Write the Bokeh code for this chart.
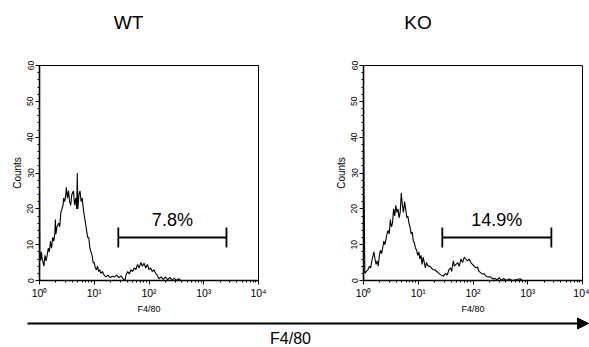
from bokeh.plotting import figure
from bokeh.layouts import column, row
from bokeh.models import Range1d, FixedTicker, SingleIntervalTicker, Arrow, NormalHead
from bokeh.core.properties import value
from bokeh.embed import file_html
from bokeh.resources import INLINE

FONT = "Liberation Sans"

# ---- data (x in decades of F4/80 fluorescence, y = counts) ----
wt_decades = [0.000, 0.000, 0.006, 0.02, 0.035, 0.05, 0.08, 0.10, 0.12, 0.14, 0.16, 0.18, 0.20, 0.22, 0.24,
              0.26, 0.28, 0.29, 0.30, 0.32, 0.35, 0.37, 0.39, 0.41, 0.43, 0.44, 0.46, 0.48, 0.49, 0.51,
              0.53, 0.55, 0.57, 0.59, 0.62, 0.64, 0.66, 0.68, 0.69, 0.70, 0.72, 0.74, 0.76, 0.78, 0.80,
              0.82, 0.84, 0.86, 0.88, 0.90, 0.92, 0.94, 0.96, 0.98, 1.00, 1.02, 1.04, 1.06, 1.08, 1.10,
              1.12, 1.15, 1.18, 1.21, 1.25, 1.29, 1.33, 1.37, 1.41, 1.45, 1.49, 1.52, 1.56, 1.58, 1.61,
              1.64, 1.67, 1.70, 1.73, 1.76, 1.79, 1.82, 1.85, 1.88, 1.91, 1.94, 1.97, 2.00, 2.03, 2.06,
              2.09, 2.12, 2.15, 2.18, 2.22, 2.26, 2.30, 2.34, 2.38, 2.42, 2.46, 2.50, 2.54, 2.58, 4.00]
wt_counts = [0, 32, 8, 5.5, 8, 6, 4, 7, 5.5, 7, 9, 8, 11, 9, 12,
             11, 13, 17, 13, 15, 16, 15, 19, 20, 21, 23, 22, 24, 26, 23,
             25, 22, 21, 24, 25, 21, 23, 20, 30, 20, 24, 25, 22, 23, 20,
             18, 16, 14, 12, 12, 9, 8, 7, 5, 5, 3.5, 3, 4, 2.5, 3,
             2, 2.5, 1.5, 1, 1.5, 0.8, 1.2, 1, 1.5, 0.8, 1.3, 0.6, 0, 1.5, 2.5,
             1.8, 3, 2.5, 3.5, 3, 4.5, 3.5, 5, 4, 4.8, 3.5, 4.5, 3, 3.5, 2.5,
             3, 2, 1.5, 0.5, 1, 0.3, 1, 0.2, 0.9, 0, 0.7, 0, 0.5, 0, 0]

ko_decades = [0.000, 0.000, 0.010, 0.025, 0.05, 0.08, 0.11, 0.13, 0.16, 0.19, 0.21, 0.23, 0.25, 0.27, 0.29,
              0.31, 0.33, 0.35, 0.37, 0.39, 0.41, 0.43, 0.45, 0.47, 0.49, 0.51, 0.53, 0.55, 0.57, 0.59,
              0.61, 0.63, 0.65, 0.67, 0.69, 0.71, 0.73, 0.75, 0.77, 0.79, 0.81, 0.83, 0.85, 0.87, 0.89,
              0.91, 0.93, 0.95, 0.97, 0.99, 1.01, 1.03, 1.05, 1.07, 1.09, 1.11, 1.13, 1.15, 1.18, 1.21,
              1.24, 1.27, 1.30, 1.34, 1.38, 1.42, 1.46, 1.50, 1.53, 1.56, 1.59, 1.61, 1.64, 1.66, 1.69,
              1.72, 1.75, 1.78, 1.81, 1.84, 1.87, 1.90, 1.93, 1.96, 1.99, 2.02, 2.05, 2.08, 2.11, 2.14,
              2.17, 2.20, 2.24, 2.28, 2.32, 2.36, 2.40, 2.44, 2.48, 2.52, 2.56, 2.60, 2.66, 2.72, 2.80,
              2.86, 2.90, 4.00]
ko_counts = [0, 50, 25, 2, 2.5, 3, 4, 3.5, 6, 8, 6, 4.5, 5.5, 4, 7,
             8.5, 7.5, 9, 11, 10, 11.5, 13, 14, 13, 17, 15, 16, 20, 18, 21,
             19, 20, 17.5, 19, 24.5, 21, 19, 22, 20, 17.5, 18, 16, 15, 13, 13.5,
             11, 10.5, 9, 8.5, 7, 8, 6, 7, 4.5, 6.5, 5, 3.5, 5, 4, 4,
             3.5, 3, 3, 2.5, 2, 1.5, 1.2, 2, 1.5, 3, 3.5, 2.5, 5.5, 4, 4.5,
             5, 4, 6, 5, 6.5, 6, 5.5, 6, 5, 4.5, 4, 3.5, 3.8, 2.5, 2.2,
             1.8, 1.9, 1.2, 1, 1, 0.5, 0.6, 0.2, 0.8, 0, 0.6, 0, 0.4, 0, 0.3,
             0.5, 0, 0]

panel_titles = ["WT", "KO"]
gate_ranges = [[27.5, 2600], [27.5, 2700]]
gate_levels = [12, 12]
gate_labels = ["7.8%", "14.9%"]
gate_label_levels = [17, 17]

x_major = [1, 10, 100, 1000, 10000]
x_tick_labels = ["10\u2070", "10\u00b9", "10\u00b2", "10\u00b3", "10\u2074"]
y_range = [0, 60]
x_label = "F4/80"
y_label = "Counts"
bottom_label = "F4/80"


def panel(decades, counts, gate, gate_y, glabel, glabel_y, width, mb_left, mb_right):
    p = figure(width=width, height=268, x_axis_type="log",
               x_range=Range1d(x_major[0], x_major[-1]), y_range=Range1d(*y_range),
               output_backend="svg", toolbar_location=None,
               min_border_left=mb_left, min_border_right=mb_right,
               min_border_top=17, min_border_bottom=32)
    p.xgrid.visible = False
    p.ygrid.visible = False
    p.outline_line_color = "black"
    p.outline_line_width = 1
    p.background_fill_color = "white"
    p.border_fill_color = "white"

    minors = [m * 10 ** k for k in range(4) for m in range(2, 10)]
    p.xaxis.ticker = FixedTicker(ticks=x_major, minor_ticks=minors)
    p.xaxis.major_label_overrides = {float(v): t for v, t in zip(x_major, x_tick_labels)}
    p.xaxis.axis_label = x_label
    p.yaxis.ticker = SingleIntervalTicker(interval=10, num_minor_ticks=5)
    p.yaxis.major_label_orientation = "vertical"
    p.yaxis.axis_label = y_label

    for ax in (p.xaxis[0], p.yaxis[0]):
        ax.axis_line_color = "black"
        ax.axis_line_width = 1.6
        ax.major_tick_line_color = "black"
        ax.minor_tick_line_color = "black"
        ax.major_tick_in = 0
        ax.major_tick_out = 4
        ax.minor_tick_in = 0
        ax.minor_tick_out = 2
        ax.major_label_text_font = FONT
        ax.major_label_text_color = "black"
        ax.major_label_standoff = 2
        ax.axis_label_text_font = FONT
        ax.axis_label_text_font_style = "normal"
        ax.axis_label_text_color = "black"
        ax.axis_label_standoff = 2
    p.xaxis.major_label_text_font_size = "10.5px"
    p.yaxis.major_label_text_font_size = "8.5px"
    p.xaxis.axis_label_text_font_size = "9px"
    p.yaxis.axis_label_text_font_size = "10px"

    xs = [10 ** d for d in decades]
    p.line(xs, counts, line_color="black", line_width=1.1)

    # gate bar
    p.segment(x0=[gate[0]], x1=[gate[1]], y0=[gate_y], y1=[gate_y], line_color="black", line_width=1.8)
    p.segment(x0=gate, x1=gate, y0=[gate_y - 2.8] * 2, y1=[gate_y + 2.8] * 2,
              line_color="black", line_width=1.8)
    cx = (gate[0] * gate[1]) ** 0.5
    p.text(x=[cx], y=[glabel_y], text=[glabel], text_align="center", text_baseline="middle",
           text_font=value(FONT), text_font_size="18px", text_color="black")
    return p


left = panel(wt_decades, wt_counts, gate_ranges[0], gate_levels[0], gate_labels[0],
             gate_label_levels[0], 300, 39, 42)
right = panel(ko_decades, ko_counts, gate_ranges[1], gate_levels[1], gate_labels[1],
              gate_label_levels[1], 289, 63, 7)

# titles row
tfig = figure(width=589, height=48, x_range=Range1d(0, 589), y_range=Range1d(0, 48),
              output_backend="svg", toolbar_location=None,
              x_axis_location=None, y_axis_location=None, min_border=0)
tfig.xgrid.visible = False
tfig.ygrid.visible = False
tfig.outline_line_color = None
tfig.text(x=[128, 417.5], y=[26, 26], text=panel_titles, text_align="center", text_baseline="middle",
          text_font=value(FONT), text_font_size="19px", text_color="black")

# bottom arrow
afig = figure(width=589, height=31, x_range=Range1d(0, 589), y_range=Range1d(0, 31),
              output_backend="svg", toolbar_location=None,
              x_axis_location=None, y_axis_location=None, min_border=0)
afig.xgrid.visible = False
afig.ygrid.visible = False
afig.outline_line_color = None
afig.add_layout(Arrow(end=NormalHead(size=11, fill_color="black", line_color="black"),
                      x_start=27, y_start=24, x_end=588, y_end=24,
                      line_color="black", line_width=2))
afig.text(x=[290], y=[9], text=[bottom_label], text_align="center", text_baseline="middle",
          text_font=value(FONT), text_font_size="16px", text_color="black")

layout = column(tfig, row(left, right, spacing=0), afig, spacing=0)

open("out.html", "w").write(file_html(layout, INLINE))
